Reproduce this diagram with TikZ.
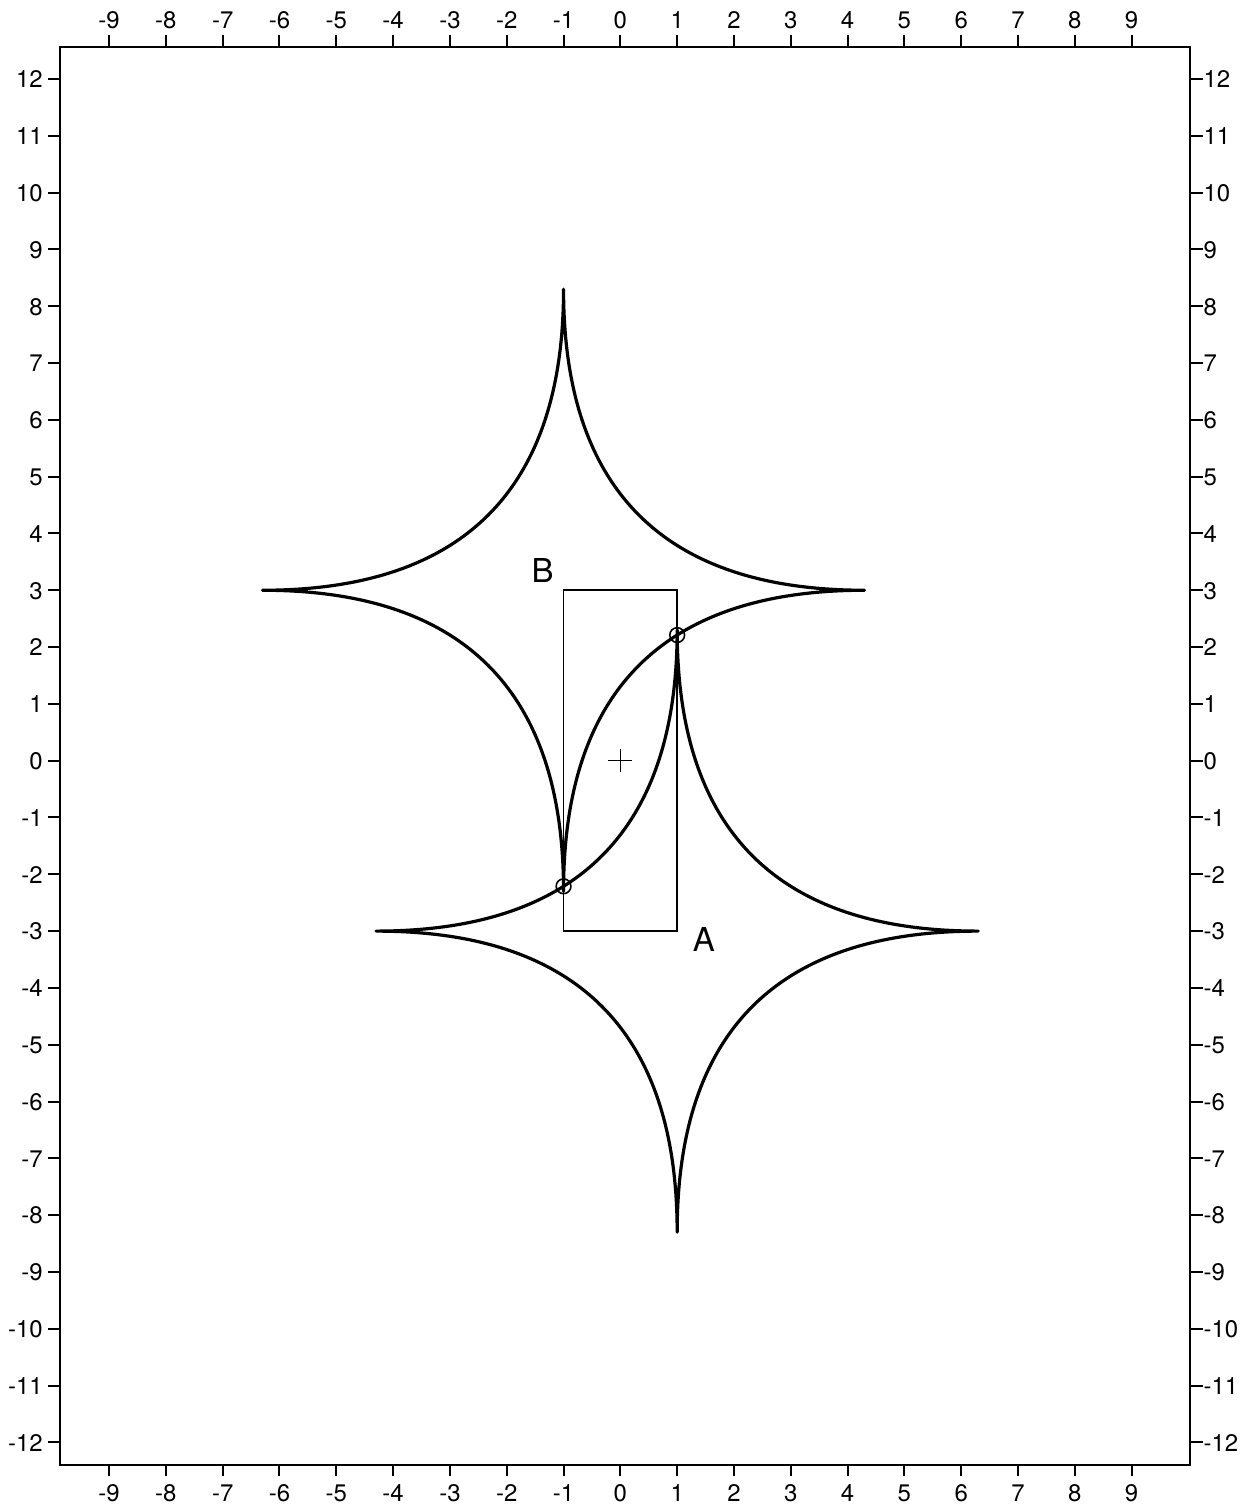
\documentclass[tikz,border=0pt]{standalone}
\usepackage{fontspec}
\setmainfont{TeX Gyre Heros}
\begin{document}
\begin{tikzpicture}[
  frameline/.style={line width=1.2pt},
  tickline/.style={line width=1pt},
  caustic/.style={line width=1.6pt, line join=round},
  rectline/.style={line width=0.9pt},
  ticklabel/.style={inner sep=0pt, font=\fontsize{12}{14}\selectfont},
  biglabel/.style={inner sep=0pt, font=\fontsize{16.5}{18}\selectfont},
  marker/.style={line width=0.8pt},
  ring/.style={circle, draw, line width=0.8pt, minimum size=0.26cm, inner sep=0pt}
]
\useasboundingbox (-10.92,-13.19) rectangle (11.07,13.39);
% frame
\draw[frameline] (-9.86,-12.40) rectangle (10.03,12.56);
% x ticks and labels
\foreach \x [count=\i] in {-9,...,9} {
  \draw[tickline] (\x,12.56) -- (\x,12.78);
  \draw[tickline] (\x,-12.40) -- (\x,-12.60);
  \node[ticklabel, anchor=base] (top\i) at (\x,12.88) {\x};
  \node[ticklabel, anchor=base] (bot\i) at (\x,-13.04) {\x};
}
% y ticks and labels
\foreach \y [count=\i] in {-12,...,12} {
  \draw[tickline] (-9.86,\y) -- (-10.08,\y);
  \draw[tickline] (10.03,\y) -- (10.25,\y);
  \node[ticklabel, anchor=base east] (lef\i) at (-10.16,\y-0.155) {\y};
  \node[ticklabel, anchor=base west] (rig\i) at (10.26,\y-0.155) {\y};
}
% caustic stars (each arc a parabola: quadratic Bezier with control at centre)
\foreach \cx/\cy in {-1/3, 1/-3} {
  \begin{scope}[shift={(\cx,\cy)}]
    \draw[caustic] (-5.3,0) .. controls (-1.7667,0) and (0,1.7667) .. (0,5.3)
      .. controls (0,1.7667) and (1.7667,0) .. (5.3,0)
      .. controls (1.7667,0) and (0,-1.7667) .. (0,-5.3)
      .. controls (0,-1.7667) and (-1.7667,0) .. cycle;
  \end{scope}
}
% rectangle
\draw[rectline] (-1,-3) rectangle (1,3);
% centre cross
\draw[marker] (-0.21,0) -- (0.21,0) (0,-0.2) -- (0,0.2);
% ring markers
\node[ring] (r1) at (1,2.211) {};
\node[ring] (r2) at (-1,-2.211) {};
% labels
\node[biglabel] (B) at (-1.37,3.34) {B};
\node[biglabel] (A) at (1.47,-3.14) {A};
\end{tikzpicture}
\end{document}
